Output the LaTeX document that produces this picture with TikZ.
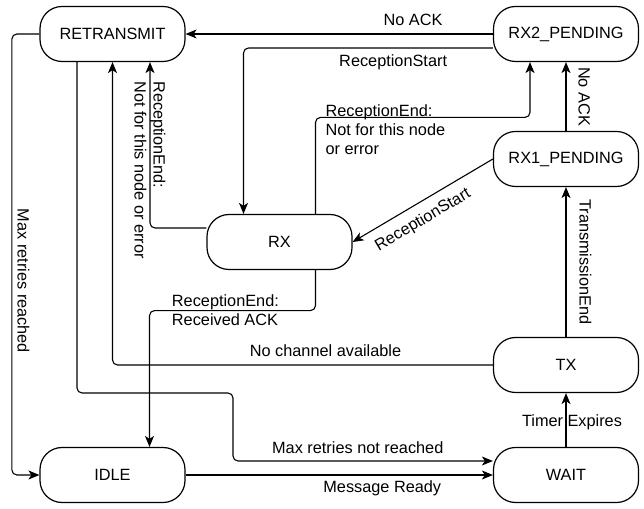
\documentclass[tikz,border=0pt]{standalone}
\usepackage{fontspec}
\setmainfont{Liberation Sans}
\usetikzlibrary{arrows.meta}

\begin{document}
\begin{tikzpicture}[x=1pt, y=1pt,
		state/.style={draw, line width=1.2pt, rounded corners=22pt, minimum width=145pt, minimum height=55pt, font=\fontsize{16.3pt}{19pt}\selectfont},
		trans/.style={draw, line width=1.1pt, rounded corners=5pt, -{Stealth[length=11pt,width=9pt,inset=3pt]}},
		lbl/.style={font=\fontsize{16.3pt}{19pt}\selectfont, inner sep=2pt}]
		\useasboundingbox (0,0) rectangle (644,508);
		%draw states
		\node[state] (retransmit) at (112.5,474) {RETRANSMIT};
		\node[state] (rxtwo) at (566,474) {RX2\_PENDING};
		\node[state] (rxone) at (566,349) {RX1\_PENDING};
		\node[state] (rx) at (279.5,266) {RX};
		\node[state] (tx) at (566,143) {TX};
		\node[state] (wait) at (566,33) {WAIT};
		\node[state] (idle) at (112.5,33) {IDLE};
		%draw transitions on the top
		\draw[trans] (rxtwo.west) -- (retransmit.east) node[lbl, pos=0.26, above=6pt] {No ACK};
		\draw[trans] ([yshift=-14pt]rxtwo.west) -| ([xshift=-36pt]rx.north) node[lbl, pos=0.2, below=4pt] {ReceptionStart};
		\draw[trans] ([xshift=36pt]rx.north) -- ++(0,96.5) node[lbl, pos=1, anchor=north west, xshift=7.5pt, yshift=15pt, align=left] {ReceptionEnd:\\Not for this node\\or error} -| ([xshift=-36pt]rxtwo.south);
		\draw[trans] (rxone.north) -- (rxtwo.south) node[lbl, midway, xshift=10pt, rotate=-90, anchor=south] {No ACK};
		\draw[trans] (rxone.west) -- (rx.east) node[lbl, pos=0.56, sloped, below=7pt] {ReceptionStart};
		\draw[trans] (tx.north) -- (rxone.south) node[lbl, midway, xshift=11pt, rotate=-90, anchor=south] {TransmissionEnd};
		%draw transitions back to RETRANSMIT
		\draw[trans] ([yshift=14pt]rx.west) -| ([xshift=37.5pt]retransmit.south) node[lbl, pos=0.95, rotate=-90, anchor=west, align=left] {ReceptionEnd:\\Not for this node or error};
		\draw[trans] (tx.west) -| (retransmit.south) node[lbl, pos=0.22, above=6pt] {No channel available};
		%draw transitions on the bottom
		\draw[trans] ([xshift=-35.5pt]retransmit.south) |- (233,115) |- ([yshift=14pt]wait.west) node[lbl, pos=0.74, above=5pt] {Max retries not reached};
		\draw[trans] (retransmit.west) -- ++(-27.5,0) |- (idle.west) node[lbl, pos=0.28, xshift=3pt, rotate=-90, anchor=south] {Max retries reached};
		\draw[trans] ([xshift=36pt]rx.south) -- ++(0,-40.5) -| ([xshift=37pt]idle.north) node[lbl, pos=0.44, anchor=west, align=left] {ReceptionEnd:\\Received ACK};
		\draw[trans] (idle.east) -- (wait.west) node[lbl, pos=0.64, below=3pt] {Message Ready};
		\draw[trans] (wait.north) -- (tx.south) node[lbl, pos=0.45, xshift=6pt] {Timer Expires};
\end{tikzpicture}
\end{document}
